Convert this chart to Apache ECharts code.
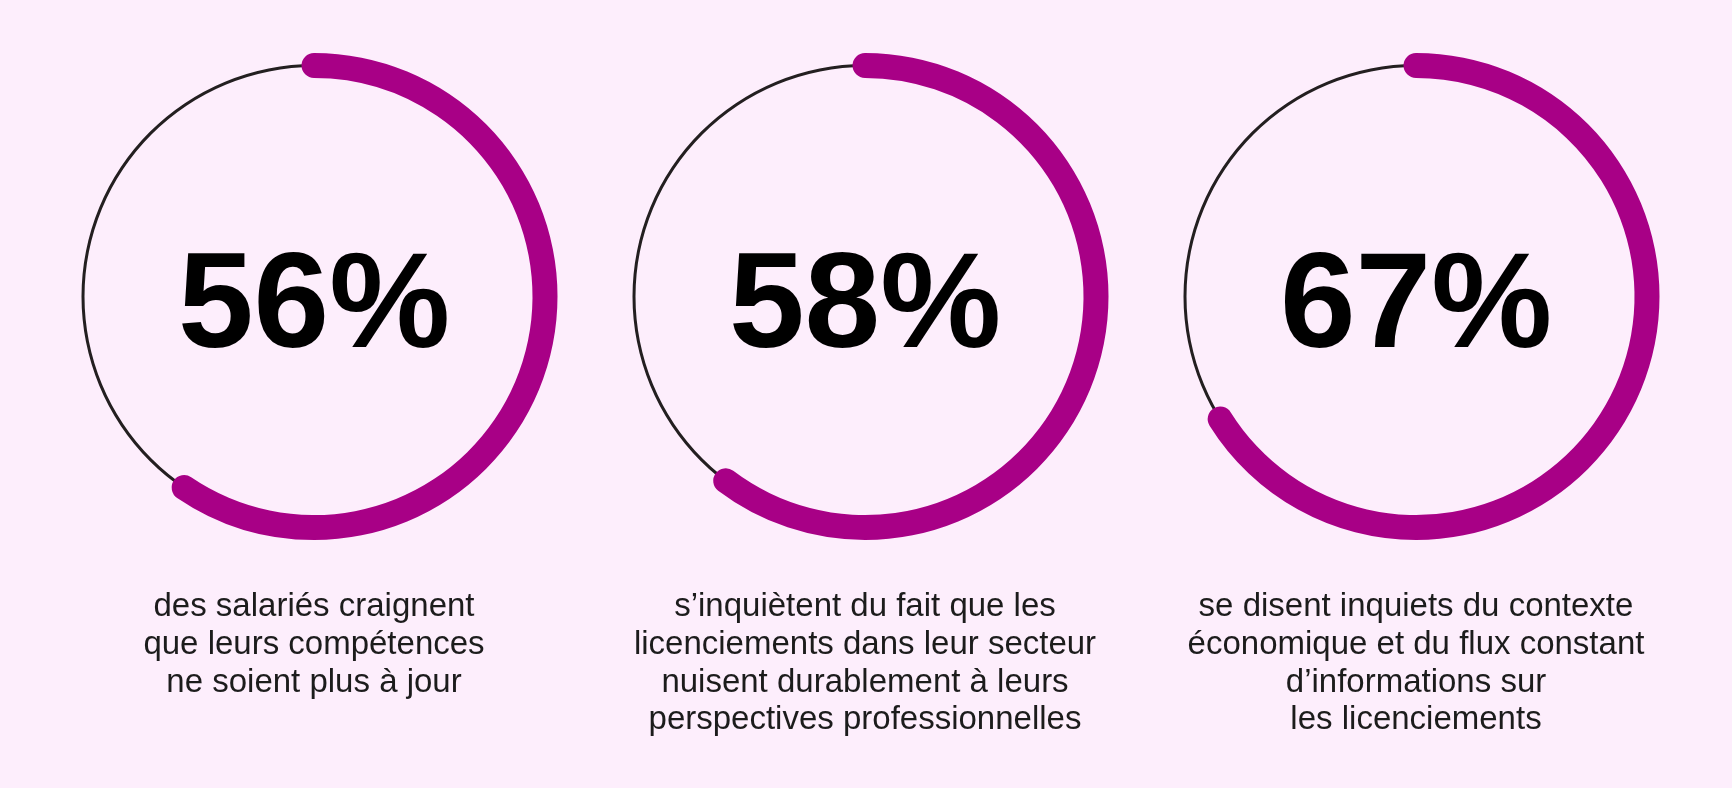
<!DOCTYPE html>
<html>
<head>
<meta charset="utf-8">
<script src="https://cdn.jsdelivr.net/npm/echarts@6/dist/echarts.min.js"></script>
<style>
  html, body { margin: 0; padding: 0; background: #fdeefc; }
  #chart { width: 1732px; height: 788px; }
</style>
</head>
<body>
<div id="chart"></div>
<script>
// ---- data ----
const percentLabels = [56, 58, 67];           // printed values
const arcDrawn = [59.5, 60.3, 66.1];          // share of the ring covered by the magenta arc, as drawn
const captions = [
  "des salariés craignent\nque leurs compétences\nne soient plus à jour",
  "s\u2019inquiètent du fait que les\nlicenciements dans leur secteur\nnuisent durablement à leurs\nperspectives professionnelles",
  "se disent inquiets du contexte\néconomique et du flux constant\nd\u2019informations sur\nles licenciements"
];

// ---- layout / style ----
const centersX = [314, 865, 1416];
const centerY = 296.5;
const R = 231;          // radius of ring centre line
const thick = 25;
const thin = 3;
const magenta = '#a80086';
const ringDark = '#231f20';
const font = '"Liberation Sans", Arial, Helvetica, sans-serif';

const series = [];
const titles = [];
centersX.forEach((cx, i) => {
  series.push({
    type: 'gauge', silent: true, animation: false,
    center: [cx, centerY], radius: R + thin / 2,
    startAngle: 90, endAngle: -270, min: 0, max: 100,
    axisLine: { show: true, lineStyle: { width: thin, color: [[1, ringDark]] } },
    axisTick: { show: false }, splitLine: { show: false }, axisLabel: { show: false },
    pointer: { show: false }, anchor: { show: false },
    title: { show: false }, detail: { show: false }, progress: { show: false },
    data: [{ value: 0 }]
  });
  series.push({
    type: 'gauge', silent: true, animation: false,
    center: [cx, centerY], radius: R + thick / 2,
    startAngle: 90, endAngle: -270, min: 0, max: 100,
    axisLine: { show: false },
    axisTick: { show: false }, splitLine: { show: false }, axisLabel: { show: false },
    pointer: { show: false }, anchor: { show: false },
    progress: { show: true, width: thick, roundCap: true, itemStyle: { color: magenta } },
    title: { show: false },
    detail: {
      show: true, offsetCenter: [0, 13], valueAnimation: false,
      formatter: () => percentLabels[i] + '%',
      fontSize: 136, fontWeight: 'bold', color: '#000', fontFamily: font
    },
    data: [{ value: arcDrawn[i] }]
  });
  titles.push({
    text: captions[i], left: cx, top: 588, textAlign: 'center', textVerticalAlign: 'top',
    padding: 0,
    textStyle: { fontSize: 33, fontWeight: 'normal', color: '#1c1c1c', lineHeight: 37.8, fontFamily: font }
  });
});

const chart = echarts.init(document.getElementById('chart'), null, { renderer: 'canvas' });
chart.setOption({
  backgroundColor: '#fdeefc',
  animation: false,
  title: titles,
  series: series
});
</script>
</body>
</html>
